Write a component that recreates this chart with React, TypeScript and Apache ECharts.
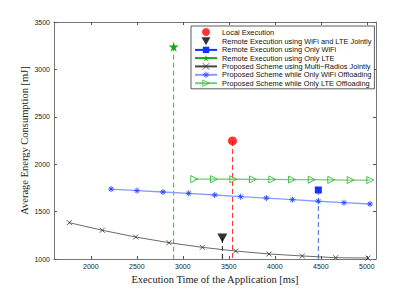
import React, { useEffect, useRef } from "react";
import * as echarts from "echarts";

// Proposed scheme curves
const multiX = [1767, 2125, 2488, 2850, 3212, 3575, 3937, 4299, 4662, 5013];
const multiY = [1383, 1303, 1232, 1172, 1123, 1084, 1053, 1032, 1014, 1010];
const wifiX = [2220, 2502, 2785, 3064, 3347, 3629, 3908, 4191, 4473, 4752, 5035];
const wifiY = [1738, 1721, 1707, 1693, 1675, 1657, 1643, 1626, 1609, 1594, 1580];
const lteX = [3125, 3339, 3549, 3763, 3973, 4187, 4401, 4614, 4825, 5038];
const lteY = [1843, 1842, 1841, 1840, 1839, 1838, 1837, 1835, 1833, 1832];

// Single operating points [time, energy]
const localPt = [3540, 2245];
const jointPt = [3430, 1222];
const onlyWifiPt = [4473, 1728];
const onlyLtePt = [2901, 3240];

const xTicks = [2000, 2500, 3000, 3500, 4000, 4500, 5000];
const names = [
  "Local Execution",
  "Remote Execution using WiFi and LTE Jointly",
  "Remote Execution using Only WiFi",
  "Remote Execution using Only LTE",
  "Proposed Scheme using Multi\u2212Radios Jointly",
  "Proposed Scheme while Only WiFi Offloading",
  "Proposed Scheme while Only LTE Offloading",
];

const STAR = "path://M50,0L61,35L98,35L68,57L79,91L50,70L21,91L32,57L2,35L39,35Z";
const XMARK = "path://M0,0L10,10M10,0L0,10";
const ASTER = "path://M5,0L5,10M0,5L10,5M1.5,1.5L8.5,8.5M8.5,1.5L1.5,8.5";
const TRI_R = "path://M0,0L10,5L0,10Z";
const TRI_D = "path://M0,0L10,0L5,9Z";

const zip = (xs: number[], ys: number[]) => xs.map((x, i) => [x, ys[i]]);

const dashed = (pt: number[], color: string) => ({
  type: "line",
  silent: true,
  data: [pt, [pt[0], 1000]],
  symbol: "none",
  lineStyle: { color, width: 1, type: [5, 3] },
  z: 1,
});

const TXT = { color: "#111" };

export default function App() {
  const ref = useRef<HTMLDivElement>(null);
  useEffect(() => {
    document.body.style.margin = "0";
    const chart = echarts.init(ref.current!, null, { renderer: "svg" });
    const axisLine = { show: true, lineStyle: { color: "#777", width: 1 } };
    const tick = { show: true, inside: true, length: 3, lineStyle: { color: "#555" } };
    const fmt = (v: number) => String(v);
    chart.setOption({
      animation: false,
      backgroundColor: "#fff",
      grid: { left: 54, right: 39, top: 22, bottom: 33 },
      xAxis: [
        {
          type: "value",
          min: 1600,
          max: 5100,
          axisLine,
          axisTick: { ...tick, customValues: xTicks },
          axisLabel: {
            customValues: xTicks,
            formatter: fmt,
            fontSize: 7,
            color: "#222",
            fontFamily: "Liberation Sans",
            margin: 4,
          },
          splitLine: { show: false },
          name: "Execution Time of the Application [ms]",
          nameLocation: "middle",
          nameGap: 15,
          nameMoveOverlap: false,
          nameTextStyle: { fontFamily: "Liberation Serif", fontSize: 10.5, color: "#222" },
        },
        {
          type: "value",
          position: "top",
          min: 1600,
          max: 5100,
          axisLine,
          axisTick: { ...tick, customValues: xTicks },
          axisLabel: { show: false },
          splitLine: { show: false },
        },
      ],
      yAxis: [
        {
          type: "value",
          min: 1000,
          max: 3500,
          interval: 500,
          axisLine,
          axisTick: tick,
          axisLabel: {
            formatter: fmt,
            fontSize: 7,
            color: "#222",
            fontFamily: "Liberation Sans",
            margin: 4,
          },
          splitLine: { show: false },
          name: "Average Energy Consumption [mJ]",
          nameLocation: "middle",
          nameGap: 24,
          nameMoveOverlap: false,
          nameTextStyle: { fontFamily: "Liberation Serif", fontSize: 10.5, color: "#222" },
        },
        {
          type: "value",
          position: "right",
          min: 1000,
          max: 3500,
          interval: 500,
          axisLine,
          axisTick: tick,
          axisLabel: { show: false },
          splitLine: { show: false },
        },
      ],
      legend: {
        data: [
          { name: names[0], icon: "circle", itemStyle: { color: "#ff0000" }, textStyle: TXT },
          { name: names[1], icon: TRI_D, itemStyle: { color: "#000" }, textStyle: TXT },
          { name: names[2], textStyle: TXT },
          { name: names[3], textStyle: TXT },
          {
            name: names[4],
            itemStyle: { color: "#333", borderColor: "#333", borderWidth: 0.8 },
            textStyle: TXT,
          },
          {
            name: names[5],
            itemStyle: { color: "#2244ff", borderColor: "#2244ff", borderWidth: 0.8 },
            textStyle: TXT,
          },
          {
            name: names[6],
            itemStyle: { color: "rgba(255,255,255,0)", borderColor: "#33bb33", borderWidth: 0.8 },
            textStyle: TXT,
          },
        ],
        orient: "vertical",
        left: 191,
        top: 26,
        itemWidth: 22,
        itemHeight: 8,
        itemGap: 1.2,
        padding: [2, 3, 2, 3],
        backgroundColor: "#fff",
        borderColor: "#333",
        borderWidth: 0.8,
        textStyle: { fontSize: 7.4, fontFamily: "Liberation Sans", color: "#111" },
        selectedMode: false,
      },
      series: [
        dashed(onlyLtePt, "#33bb33"),
        dashed(localPt, "#ff3333"),
        dashed(onlyWifiPt, "#4466ff"),
        dashed(jointPt, "#222"),
        {
          name: names[4],
          type: "line",
          data: zip(multiX, multiY),
          symbol: XMARK,
          symbolSize: 5,
          lineStyle: { color: "#444", width: 0.8 },
          itemStyle: { color: "#333", borderColor: "#333", borderWidth: 0.8 },
          z: 3,
        },
        {
          name: names[5],
          type: "line",
          data: zip(wifiX, wifiY),
          symbol: ASTER,
          symbolSize: 6,
          lineStyle: { color: "#8a9cff", width: 1.3 },
          itemStyle: { color: "#2244ff", borderColor: "#2244ff", borderWidth: 0.9 },
          z: 3,
        },
        {
          name: names[6],
          type: "line",
          data: zip(lteX, lteY),
          symbol: TRI_R,
          symbolSize: 7,
          lineStyle: { color: "#77cc77", width: 1.3 },
          itemStyle: { color: "rgba(255,255,255,0)", borderColor: "#33bb33", borderWidth: 0.9 },
          z: 3,
        },
        {
          name: names[0],
          type: "scatter",
          data: [localPt],
          symbol: "circle",
          symbolSize: 9,
          itemStyle: { color: "#ff0000" },
          z: 5,
        },
        {
          name: names[1],
          type: "scatter",
          data: [jointPt],
          symbol: TRI_D,
          symbolSize: [10, 9],
          itemStyle: { color: "#000" },
          z: 5,
        },
        {
          name: names[2],
          type: "line",
          data: [onlyWifiPt],
          symbol: "rect",
          symbolSize: 7,
          showSymbol: true,
          lineStyle: { color: "#1133ff", width: 1 },
          itemStyle: { color: "#1133ff" },
          z: 5,
        },
        {
          name: names[3],
          type: "line",
          data: [onlyLtePt],
          symbol: STAR,
          symbolSize: 10,
          showSymbol: true,
          lineStyle: { color: "#11aa11", width: 1 },
          itemStyle: { color: "#11aa11" },
          z: 5,
        },
      ],
    });
    return () => chart.dispose();
  }, []);
  return (
    <div
      ref={ref}
      style={{ position: "fixed", left: 0, top: 0, width: 415, height: 292 }}
    />
  );
}
